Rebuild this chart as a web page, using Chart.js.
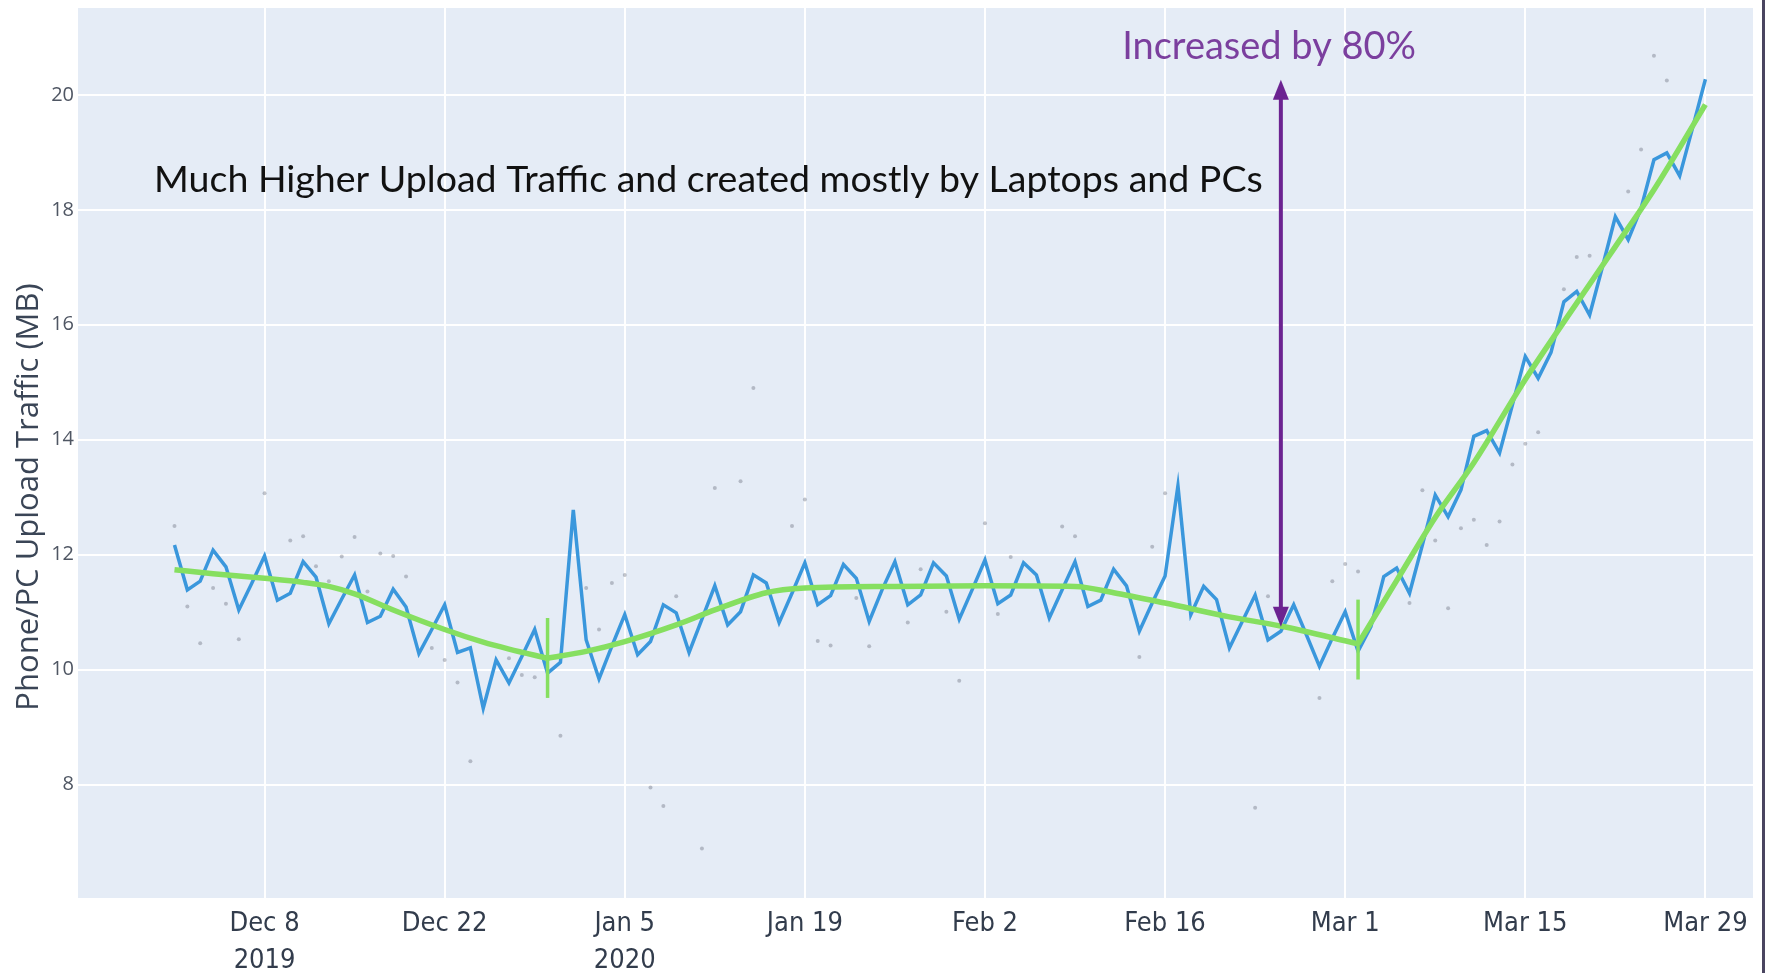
<!DOCTYPE html>
<html>
<head>
<meta charset="utf-8">
<title>Phone/PC Upload Traffic</title>
<script src="https://cdn.jsdelivr.net/npm/chart.js@4.4.1/dist/chart.umd.min.js"></script>
<style>
  html, body { margin: 0; padding: 0; background: #fff; }
  #wrap { position: relative; width: 1765px; height: 973px; overflow: hidden; }
  #edge { position: absolute; right: 0; top: 0; width: 3px; height: 973px; background: #4a4560; }
</style>
</head>
<body>
<div id="wrap">
  <canvas id="upload-chart" width="1765" height="973"></canvas>
  <div id="edge"></div>
</div>
<script>
// daily upload traffic, one value per day from startDate
const startDate = '2019-12-01';
const uploadMB = [
  12.17, 11.39, 11.54, 12.08, 11.79, 11.04, 11.50, 11.98, 11.21, 11.33, // Dec 1-10
  11.88, 11.61, 10.80, 11.23, 11.65, 10.82, 10.93, 11.40, 11.09, 10.28, // Dec 11-20
  10.70, 11.13, 10.30, 10.38, 9.33, 10.17, 9.77, 10.23, 10.70, 9.94,    // Dec 21-30
  10.13,                                                                // Dec 31
  12.78, 10.52, 9.84, 10.41, 10.96, 10.26, 10.49, 11.13, 10.99, 10.30,  // Jan 1-10
  10.88, 11.46, 10.78, 11.01, 11.65, 11.51, 10.82, 11.33, 11.86, 11.13, // Jan 11-20
  11.29, 11.83, 11.59, 10.84, 11.39, 11.88, 11.13, 11.30, 11.86, 11.63, // Jan 21-30
  10.88,                                                                // Jan 31
  11.39, 11.91, 11.15, 11.30, 11.86, 11.65, 10.90, 11.39, 11.88, 11.10, // Feb 1-10
  11.21, 11.75, 11.46, 10.67, 11.16, 11.63, 13.20, 10.96, 11.45, 11.22, // Feb 11-20
  10.38, 10.84, 11.30, 10.52, 10.67, 11.13, 10.60, 10.06, 10.55,        // Feb 21-29
  11.01, 10.32, 10.75, 11.62, 11.77, 11.33, 12.17, 13.04, 12.66, 13.13, // Mar 1-10
  14.06, 14.16, 13.77, 14.61, 15.45, 15.07, 15.52, 16.40, 16.58, 16.17, // Mar 11-20
  17.01, 17.88, 17.48, 18.03, 18.87, 18.99, 18.59, 19.42, 20.27         // Mar 21-29
];

// fitted trend, three pieces split at the change points
const trendEarlyDates = ['2019-12-01', '2019-12-04', '2019-12-08', '2019-12-11', '2019-12-13', '2019-12-15',
  '2019-12-18', '2019-12-22', '2019-12-25', '2019-12-27', '2019-12-30'];
const trendEarlyMB = [11.74, 11.67, 11.59, 11.52, 11.45, 11.32, 11.04, 10.70, 10.48, 10.36, 10.20];

const trendMidDates = ['2019-12-30', '2020-01-02', '2020-01-05', '2020-01-09', '2020-01-12', '2020-01-16',
  '2020-01-19', '2020-01-26', '2020-02-02', '2020-02-09', '2020-02-12', '2020-02-16', '2020-02-21',
  '2020-02-25', '2020-03-02'];
const trendMidMB = [10.20, 10.32, 10.49, 10.78, 11.04, 11.34, 11.42, 11.45, 11.46, 11.45, 11.34, 11.16,
  10.92, 10.76, 10.45];

const trendLateDates = ['2020-03-02', '2020-03-05', '2020-03-08', '2020-03-11', '2020-03-15', '2020-03-18',
  '2020-03-22', '2020-03-25', '2020-03-29'];
const trendLateMB = [10.45, 11.55, 12.65, 13.60, 15.05, 16.05, 17.36, 18.35, 19.83];

const changeDates = ['2019-12-30', '2020-03-02'];
const changeLowMB = [9.51, 9.83];
const changeHighMB = [10.90, 11.22];

// faint grey observations
const dotDates = ['2019-12-01', '2019-12-02', '2019-12-03', '2019-12-04', '2019-12-05', '2019-12-06',
  '2019-12-08', '2019-12-10', '2019-12-11', '2019-12-12', '2019-12-13', '2019-12-14', '2019-12-15',
  '2019-12-16', '2019-12-17', '2019-12-18', '2019-12-19', '2019-12-21', '2019-12-22', '2019-12-23',
  '2019-12-24', '2019-12-27', '2019-12-28', '2019-12-29', '2019-12-31', '2020-01-02', '2020-01-03',
  '2020-01-04', '2020-01-05', '2020-01-07', '2020-01-08', '2020-01-09', '2020-01-11', '2020-01-12',
  '2020-01-14', '2020-01-15', '2020-01-18', '2020-01-19', '2020-01-20', '2020-01-21', '2020-01-23',
  '2020-01-24', '2020-01-27', '2020-01-28', '2020-01-30', '2020-01-31', '2020-02-02', '2020-02-03',
  '2020-02-04', '2020-02-08', '2020-02-09', '2020-02-14', '2020-02-15', '2020-02-16', '2020-02-23',
  '2020-02-24', '2020-02-28', '2020-02-29', '2020-03-01', '2020-03-02', '2020-03-06', '2020-03-07',
  '2020-03-08', '2020-03-09', '2020-03-10', '2020-03-11', '2020-03-12', '2020-03-13', '2020-03-14',
  '2020-03-15', '2020-03-16', '2020-03-18', '2020-03-19', '2020-03-20', '2020-03-23', '2020-03-24',
  '2020-03-25', '2020-03-26'];
const dotMB = [12.50, 11.10, 10.46, 11.42, 11.15, 10.53,
  13.07, 12.25, 12.32, 11.80, 11.54, 11.97, 12.31,
  11.36, 12.02, 11.98, 11.62, 10.38, 10.17, 9.78,
  8.41, 10.20, 9.91, 9.87, 8.85, 11.42, 10.70,
  11.51, 11.65, 7.95, 7.63, 11.28, 6.89, 13.16,
  13.28, 14.90, 12.50, 12.96, 10.50, 10.42, 11.25,
  10.41, 10.82, 11.75, 11.01, 9.81, 12.55, 10.97,
  11.96, 12.49, 12.32, 10.22, 12.14, 13.07, 7.60,
  11.28, 9.51, 11.54, 11.84, 11.71, 11.16, 13.12,
  12.25, 11.07, 12.46, 12.61, 12.17, 12.58, 13.57,
  13.93, 14.13, 16.62, 17.18, 17.20, 18.32, 19.05,
  20.68, 20.25];

const tickDates = ['2019-12-08', '2019-12-22', '2020-01-05', '2020-01-19', '2020-02-02',
  '2020-02-16', '2020-03-01', '2020-03-15', '2020-03-29'];
const tickLabels = [['Dec 8', '2019'], 'Dec 22', ['Jan 5', '2020'], 'Jan 19', 'Feb 2',
  'Feb 16', 'Mar 1', 'Mar 15', 'Mar 29'];
const yTicks = [8, 10, 12, 14, 16, 18, 20];
const xRange = ['2019-11-23T12:00Z', '2020-04-01T16:48Z'];
const yRange = [6.03, 21.51];

const arrowDate = '2020-02-25';
const arrowFromMB = 10.75;
const arrowToMB = 20.26;
const noteMain = { text: 'Much Higher Upload Traffic and created mostly by Laptops and PCs', date: '2019-11-29T10:00Z', mb: 18.52 };
const noteRise = { text: 'Increased by 80%', date: '2020-02-24T02:00Z', mb: 20.83 };
const yTitle = 'Phone/PC Upload Traffic (MB)';

const day = s => Date.parse(s) / 86400000;
const pts = (dates, vals) => dates.map((d, i) => ({ x: day(d), y: vals[i] }));

const GREEN = '#86df60';
const BLUE = '#3a97dc';
const PURPLE = '#6c2391';

const annotations = {
  id: 'annotations',
  afterDraw(chart) {
    const { ctx, scales: { x, y } } = chart;
    const ax = x.getPixelForValue(day(arrowDate));
    const yTop = y.getPixelForValue(arrowToMB);
    const yBot = y.getPixelForValue(arrowFromMB);
    ctx.save();
    ctx.strokeStyle = PURPLE;
    ctx.fillStyle = PURPLE;
    ctx.lineWidth = 4;
    ctx.beginPath();
    ctx.moveTo(ax, yTop + 16);
    ctx.lineTo(ax, yBot - 16);
    ctx.stroke();
    ctx.beginPath();
    ctx.moveTo(ax, yTop); ctx.lineTo(ax - 8, yTop + 20); ctx.lineTo(ax + 8, yTop + 20); ctx.closePath();
    ctx.fill();
    ctx.beginPath();
    ctx.moveTo(ax, yBot); ctx.lineTo(ax - 8, yBot - 20); ctx.lineTo(ax + 8, yBot - 20); ctx.closePath();
    ctx.fill();

    ctx.textBaseline = 'middle';
    ctx.font = '37.5px Lato, "Open Sans", sans-serif';
    ctx.fillStyle = '#111';
    ctx.textAlign = 'left';
    ctx.fillText(noteMain.text, x.getPixelForValue(day(noteMain.date)), y.getPixelForValue(noteMain.mb));
    ctx.fillStyle = '#7b3f9e';
    ctx.textAlign = 'center';
    ctx.font = '38px Lato, "Open Sans", sans-serif';
    ctx.fillText(noteRise.text, x.getPixelForValue(day(noteRise.date)), y.getPixelForValue(noteRise.mb));

    // axis title sits a bit below the middle of the plot
    ctx.translate(29, 497);
    ctx.rotate(-Math.PI / 2);
    ctx.font = '31px "Open Sans", sans-serif';
    ctx.fillStyle = '#3a4556';
    ctx.fillText(yTitle, 0, 0);
    ctx.restore();
  }
};

const plotBg = {
  id: 'plotBg',
  beforeDraw(chart) {
    const { ctx, chartArea: a } = chart;
    ctx.save();
    ctx.fillStyle = '#e5ecf6';
    ctx.fillRect(a.left, a.top, a.right - a.left, a.bottom - a.top);
    ctx.restore();
  }
};

const changeSets = changeDates.map((d, i) => ({
  label: 'change ' + d,
  data: [{ x: day(d), y: changeLowMB[i] }, { x: day(d), y: changeHighMB[i] }],
  borderColor: GREEN, borderWidth: 3.5, pointRadius: 0, order: 0
}));

const trendSet = (dates, vals) => ({
  label: 'trend',
  data: pts(dates, vals),
  borderColor: GREEN, borderWidth: 5.5, pointRadius: 0,
  cubicInterpolationMode: 'monotone', order: 1
});

new Chart(document.getElementById('upload-chart'), {
  type: 'line',
  data: {
    datasets: [
      ...changeSets,
      trendSet(trendEarlyDates, trendEarlyMB),
      trendSet(trendMidDates, trendMidMB),
      trendSet(trendLateDates, trendLateMB),
      {
        label: 'upload',
        data: uploadMB.map((v, i) => ({ x: day(startDate) + i, y: v })),
        borderColor: BLUE, borderWidth: 3.5, pointRadius: 0, tension: 0, order: 2
      },
      {
        type: 'scatter',
        label: 'observed',
        data: pts(dotDates, dotMB),
        backgroundColor: 'rgba(105,110,125,0.4)', borderWidth: 0, pointRadius: 2, order: 3
      }
    ]
  },
  options: {
    responsive: false,
    animation: false,
    layout: { padding: { top: 8, right: 12, left: 0, bottom: 0 } },
    plugins: { legend: { display: false }, tooltip: { enabled: false } },
    scales: {
      x: {
        type: 'linear',
        min: day(xRange[0]),
        max: day(xRange[1]),
        afterBuildTicks: s => { s.ticks = tickDates.map(d => ({ value: day(d) })); },
        afterFit: s => { s.height = 75; s.paddingLeft = 0; s.paddingRight = 0; },
        grid: { color: '#ffffff', lineWidth: 2, drawTicks: false },
        border: { display: false },
        ticks: {
          autoSkip: false, maxRotation: 0, padding: 8,
          color: '#323c4c',
          font: { family: '"Liberation Sans Narrow", "DejaVu Sans Condensed", "Open Sans", sans-serif', size: 27, lineHeight: 1.35 },
          callback: (v, i) => tickLabels[i]
        }
      },
      y: {
        min: yRange[0],
        max: yRange[1],
        afterBuildTicks: s => { s.ticks = yTicks.map(v => ({ value: v })); },
        afterFit: s => { s.width = 78; s.paddingTop = 0; s.paddingBottom = 0; },
        grid: { color: '#ffffff', lineWidth: 2, drawTicks: false },
        border: { display: false },
        ticks: {
          padding: 4, color: '#4f5663',
          font: { family: '"Liberation Sans Narrow", "Open Sans", sans-serif', size: 20 }
        }
      }
    }
  },
  plugins: [plotBg, annotations]
});
</script>
</body>
</html>
